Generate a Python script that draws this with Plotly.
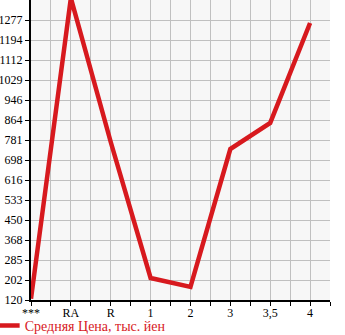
import plotly.graph_objects as go

categories = ["***", "RA", "R", "1", "2", "3", "3,5", "4"]
prices = [125, 1368, 773, 211, 174, 744, 852, 1265]
y_tick_labels = [120, 202, 285, 368, 450, 533, 616, 698, 781, 864, 946, 1029, 1112, 1194, 1277]
series_name = "Средняя Цена, тыс. йен"

x_idx = list(range(len(categories)))
tickvals = []
ticktext = []
for i, c in enumerate(categories):
    tickvals += [i, i + 0.5]
    ticktext += [c, ""]

RED = "#d7191e"
FONT = "Liberation Serif"

fig = go.Figure()
fig.add_trace(go.Scatter(
    x=x_idx, y=prices, mode="lines", name=series_name,
    line=dict(color=RED, width=4.5),
))

fig.update_layout(
    width=345, height=335,
    margin=dict(l=31, r=15, t=0, b=35, autoexpand=False),
    paper_bgcolor="white", plot_bgcolor="#f7f7f7",
    font=dict(family=FONT, size=12, color="black"),
    showlegend=True,
    legend=dict(
        x=-0.155, y=-0.033, xanchor="left", yanchor="top",
        orientation="h", itemwidth=30,
        font=dict(family=FONT, size=14, color=RED),
        bgcolor="rgba(0,0,0,0)",
    ),
    xaxis=dict(
        range=[0, 7.5], tickmode="array", tickvals=tickvals, ticktext=ticktext,
        showgrid=True, gridcolor="#c0c0c0", gridwidth=1,
        showline=True, linecolor="black", linewidth=2,
        ticks="outside", ticklen=4, tickcolor="black", tickwidth=1,
        ticklabelstandoff=-3,
        zeroline=False, fixedrange=True, automargin=False,
        tickfont=dict(family=FONT, size=12),
    ),
    yaxis=dict(
        range=[120, 1360], tickmode="array", tickvals=y_tick_labels,
        ticktext=[str(v) for v in y_tick_labels],
        showgrid=True, gridcolor="#c0c0c0", gridwidth=1,
        showline=True, linecolor="black", linewidth=2,
        ticks="outside", ticklen=4, tickcolor="black", tickwidth=1,
        zeroline=False, fixedrange=True, automargin=False,
        tickfont=dict(family=FONT, size=12),
    ),
)

fig.write_html("out.html", config={"displayModeBar": False})
